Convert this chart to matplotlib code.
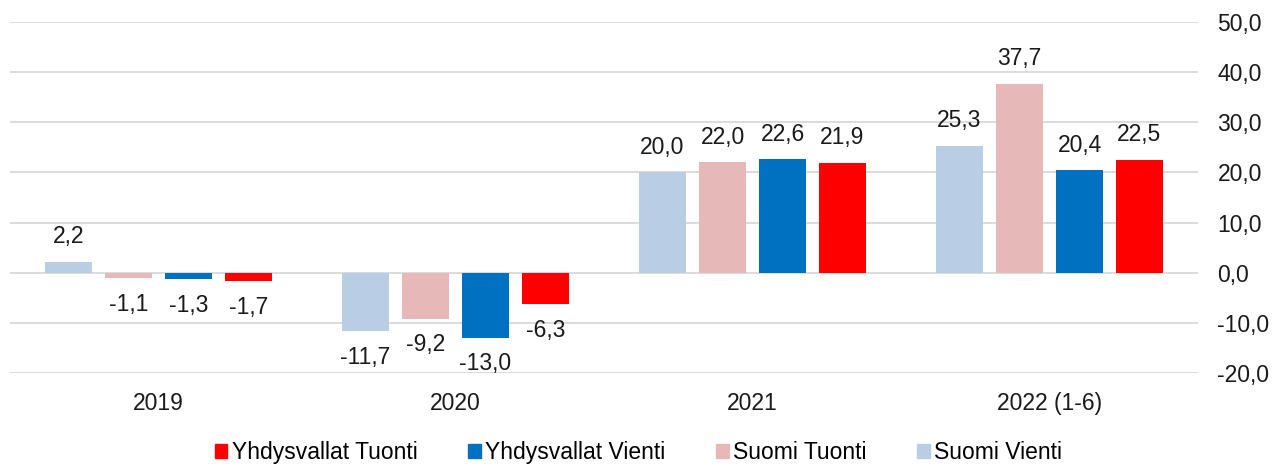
import numpy as np
import matplotlib.pyplot as plt
from matplotlib.ticker import FuncFormatter
from matplotlib.patches import Patch

plt.rcParams['font.family'] = ['Liberation Sans', 'DejaVu Sans']

categories = ['2019', '2020', '2021', '2022 (1-6)']
series_names = ['Suomi Vienti', 'Suomi Tuonti', 'Yhdysvallat Vienti', 'Yhdysvallat Tuonti']
suomi_vienti = [2.2, -11.7, 20.0, 25.3]
suomi_tuonti = [-1.1, -9.2, 22.0, 37.7]
yhd_vienti = [-1.3, -13.0, 22.6, 20.4]
yhd_tuonti = [-1.7, -6.3, 21.9, 22.5]
colors = ['#B9CDE5', '#E6B9B8', '#0070C0', '#FF0000']

fs = 16.5
fig = plt.figure(figsize=(12.85, 4.65), dpi=100)
ax = fig.add_axes([0.0078, 0.1978, 0.9245, 0.7549])

x = np.arange(len(categories))
width = 0.158
step = 0.202
all_series = [suomi_vienti, suomi_tuonti, yhd_vienti, yhd_tuonti]
for i, (vals, col) in enumerate(zip(all_series, colors)):
    pos = x + (i - 1.5) * step
    ax.bar(pos, vals, width, color=col, zorder=3)
    for p, v in zip(pos, vals):
        off = 25 if v >= 0 else -26
        ax.annotate(f'{v:.1f}'.replace('.', ','), (p, v), xytext=(0, off),
                    textcoords='offset pixels', ha='center', va='center',
                    fontsize=fs, color='#1a1a1a')

ax.set_xlim(-0.5, 3.5)
ax.set_ylim(-20, 50)
ax.set_yticks(np.arange(-20, 51, 10))
ax.yaxis.tick_right()
ax.yaxis.set_major_formatter(FuncFormatter(lambda v, _: f'{v:.1f}'.replace('.', ',')))
ax.tick_params(axis='y', length=0, pad=14, labelsize=fs, labelcolor='#1a1a1a')
ax.set_xticks(x)
ax.set_xticklabels(categories)
ax.tick_params(axis='x', length=0, pad=14, labelsize=fs, labelcolor='#1a1a1a')
ax.grid(axis='y', color='#D9D9D9', linewidth=1.3, zorder=0)
for s in ax.spines.values():
    s.set_visible(False)

handles = [Patch(color=c, label=n) for c, n in zip(colors, series_names)][::-1]
fig.legend(handles=handles, loc='center', bbox_to_anchor=(0.497, 0.027), ncol=4,
           frameon=False, fontsize=fs, handlelength=0.55, handleheight=0.55,
           handletextpad=0.2, columnspacing=2.2)

fig.savefig('out.png', dpi=100)
